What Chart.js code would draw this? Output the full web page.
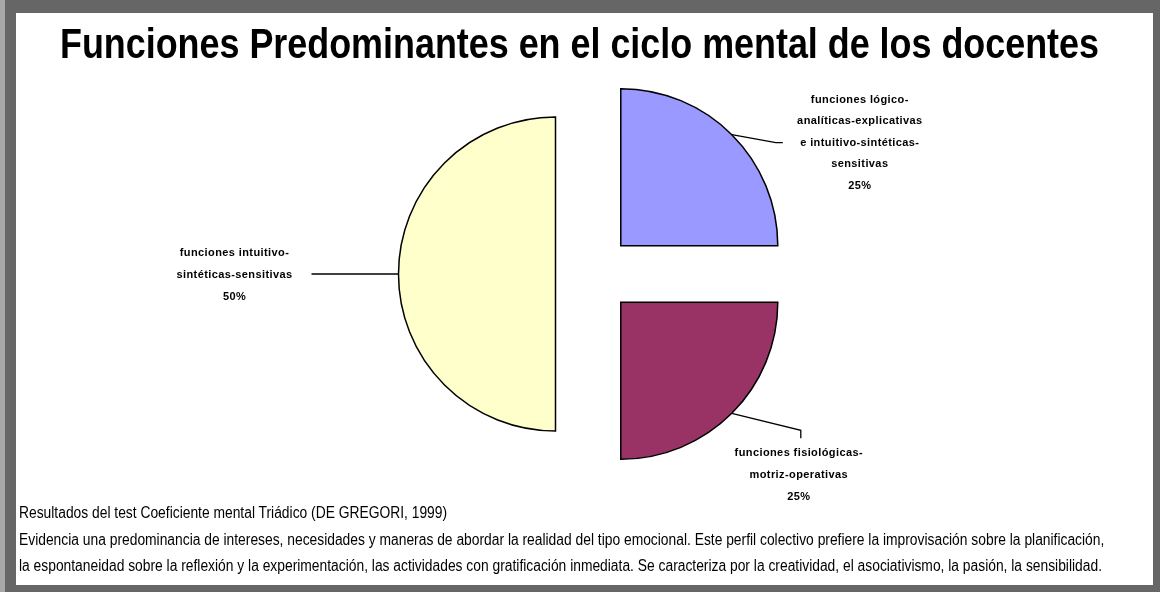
<!DOCTYPE html>
<html>
<head>
<meta charset="utf-8">
<script src="https://cdn.jsdelivr.net/npm/chart.js@4/dist/chart.umd.min.js"></script>
<style>
  html, body { margin: 0; padding: 0; }
  body { width: 1160px; height: 592px; position: relative; overflow: hidden; background: #a8a8a8; }
  #frame { position: absolute; left: 5px; top: 0; width: 1155px; height: 592px; background: #666666; }
  #sheet { position: absolute; left: 16px; top: 13px; width: 1137px; height: 572px; background: #ffffff; }
  #chart { position: absolute; left: 0; top: 0; }
  .fit { position: absolute; white-space: nowrap; transform-origin: 0 0; color: #000; }
  #title { left: 60px; top: 22px; font: bold 43px "Liberation Sans Narrow", "Arial Narrow", "Liberation Sans", sans-serif; line-height: 43px; }
  .note { left: 19px; font: 16px "Liberation Sans Narrow", "Arial Narrow", "Liberation Sans", sans-serif; line-height: 16px; }
</style>
</head>
<body>
<div id="frame"></div>
<div id="sheet"></div>
<canvas id="chart" width="1160" height="592"></canvas>
<div id="title" class="fit">Funciones Predominantes en el ciclo mental de los docentes</div>
<div id="note1" class="fit note" style="top:505px">Resultados del test Coeficiente mental Triádico (DE GREGORI, 1999)</div>
<div id="note2" class="fit note" style="top:532px">Evidencia una predominancia de intereses, necesidades  y maneras de abordar la realidad del tipo emocional. Este perfil colectivo prefiere la improvisación sobre la planificación,</div>
<div id="note3" class="fit note" style="top:558px">la espontaneidad sobre la reflexión y la experimentación, las actividades con gratificación inmediata. Se caracteriza por la creatividad, el asociativismo, la pasión, la sensibilidad.</div>
<script>
// slices, clockwise from 12 o'clock
const sliceNames = [
  'funciones lógico-analíticas-explicativas e intuitivo-sintéticas-sensitivas',
  'funciones fisiológicas-motriz-operativas',
  'funciones intuitivo-sintéticas-sensitivas'
];
const sliceValues = [25, 25, 50];
const sliceColors = ['#9999FF', '#993366', '#FFFFCC'];
// how the names wrap in the callouts
const nameLines = [
  ['funciones lógico-', 'analíticas-explicativas', 'e intuitivo-sintéticas-', 'sensitivas'],
  ['funciones fisiológicas-', 'motriz-operativas'],
  ['funciones intuitivo-', 'sintéticas-sensitivas']
];

// squeeze the html text to the widths seen in the picture
function fitWidth(id, target) {
  const el = document.getElementById(id);
  const w = el.getBoundingClientRect().width;
  el.style.transform = 'scaleX(' + (target / w) + ')';
  return target / w;
}
fitWidth('title', 1039);
const noteScale = fitWidth('note3', 1083);
document.getElementById('note1').style.transform = 'scaleX(' + noteScale + ')';
document.getElementById('note2').style.transform = 'scaleX(' + noteScale + ')';

// pull each slice away from the centre (px)
const explodePlugin = {
  id: 'explode',
  afterDatasetsUpdate(chart, args, opts) {
    const meta = chart.getDatasetMeta(0);
    meta.data.forEach((arc, i) => {
      const mid = (arc.startAngle + arc.endAngle) / 2;
      arc.x += Math.cos(mid) * opts.distance[i];
      arc.y += Math.sin(mid) * opts.distance[i];
    });
  }
};

// leader lines and labels, anchored on the middle of each arc
const calloutPlugin = {
  id: 'callouts',
  afterDatasetsDraw(chart, args, opts) {
    const ctx = chart.ctx;
    const meta = chart.getDatasetMeta(0);
    const total = sliceValues.reduce((a, b) => a + b, 0);
    meta.data.forEach((arc, i) => {
      const lay = opts.layout[i];
      const mid = (arc.startAngle + arc.endAngle) / 2;
      const ax = arc.x + Math.cos(mid) * arc.outerRadius;
      const ay = arc.y + Math.sin(mid) * arc.outerRadius;

      ctx.save();
      ctx.strokeStyle = '#000';
      ctx.lineWidth = 1.3;
      ctx.beginPath();
      ctx.moveTo(ax, ay);
      lay.leader.forEach(p => ctx.lineTo(ax + p[0], ay + p[1]));
      ctx.stroke();

      const lines = nameLines[i].concat([Math.round(sliceValues[i] / total * 100) + '%']);
      ctx.fillStyle = '#000';
      ctx.font = 'bold 11px "Liberation Sans", Arial, sans-serif';
      ctx.letterSpacing = '0.4px';
      ctx.textAlign = 'center';
      ctx.textBaseline = 'middle';
      lines.forEach((t, k) => {
        ctx.fillText(t, ax + lay.textX, ay + lay.firstY + k * lay.gap);
      });
      ctx.restore();
    });
  }
};

const data = {
  labels: sliceNames,
  datasets: [{
    data: sliceValues,
    backgroundColor: sliceColors,
    borderColor: '#000000',
    borderWidth: 1.5,
    borderJoinStyle: 'miter'
  }]
};

const config = {
  type: 'pie',
  data,
  options: {
    responsive: false,
    animation: false,
    events: [],
    radius: 157,
    layout: {
      padding: { left: 400, right: 375, top: 100, bottom: 144 }
    },
    plugins: {
      legend: { display: false },
      tooltip: { enabled: false },
      title: { display: false },
      explode: { distance: [40, 40, 37] },
      callouts: {
        layout: [
          { leader: [[44, 8], [51, 8]], textX: 128, firstY: -35, gap: 21.5 },
          { leader: [[69, 17], [69, 25]], textX: 67, firstY: 40, gap: 22 },
          { leader: [[-87, 0]], textX: -164, firstY: -21, gap: 22 }
        ]
      }
    }
  },
  plugins: [explodePlugin, calloutPlugin]
};

const chart = new Chart(document.getElementById('chart'), config);
</script>
</body>
</html>
